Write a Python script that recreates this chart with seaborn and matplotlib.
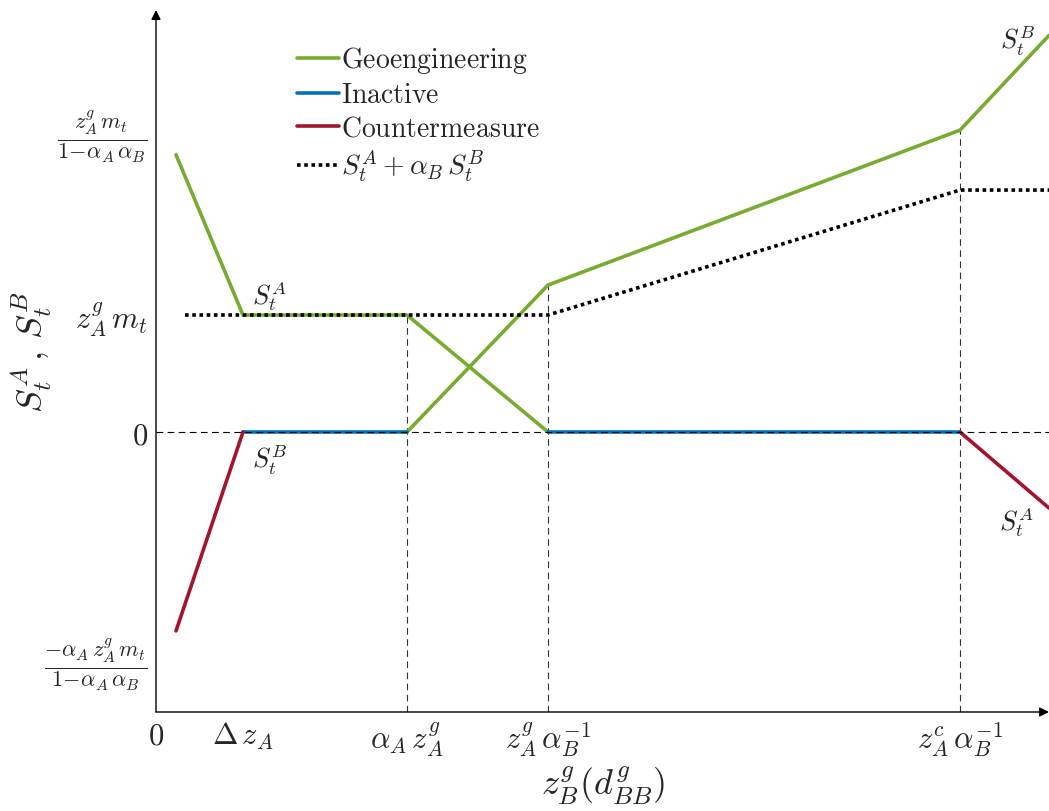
import numpy as np
import pandas as pd
import seaborn as sns
import matplotlib
matplotlib.use("Agg")
import matplotlib.pyplot as plt
from matplotlib.lines import Line2D
import matplotlib.transforms as mtransforms

sns.set_style("white")
plt.rcParams["mathtext.fontset"] = "cm"
plt.rcParams["font.family"] = ["DejaVu Serif"]

# ---- data (schematic units) ----
x_ticks = [0.0, 0.87, 2.51, 3.92, 8.04]
x_ticklabels = [r"$0$", r"$\Delta\,z_A$", r"$\alpha_A\,z_A^g$", r"$z_A^g\,\alpha_B^{-1}$", r"$z_A^c\,\alpha_B^{-1}$"]
y_ticks = [-1.98, 0.0, 1.0, 2.53]
y_ticklabels = [r"$\frac{-\alpha_A\,z_A^g\,m_t}{1\!-\!\alpha_A\,\alpha_B}$", r"$0$", r"$z_A^g\,m_t$",
                r"$\frac{z_A^g\,m_t}{1\!-\!\alpha_A\,\alpha_B}$"]

geo_A_x = [0.20, 0.87, 2.51, 3.92]
geo_A_y = [2.37, 1.0, 1.0, 0.0]
geo_B_x = [2.51, 3.92, 8.04, 8.93]
geo_B_y = [0.0, 1.256, 2.58, 3.39]
inact_B_x = [0.87, 2.51]
inact_B_y = [0.0, 0.0]
inact_A_x = [3.92, 8.04]
inact_A_y = [0.0, 0.0]
count_B_x = [0.20, 0.87]
count_B_y = [-1.70, 0.0]
count_A_x = [8.04, 8.93]
count_A_y = [0.0, -0.65]
sum_x = [0.29, 3.92, 8.04, 8.93]
sum_y = [1.0, 1.0, 2.068, 2.068]

vlines_x = [2.51, 3.92, 8.04]
vlines_top = [1.0, 1.256, 2.58]

colors = {"Geoengineering": "#77AC30", "Inactive": "#0072BD",
          "Countermeasure": "#A2142F", "sum": "black"}

rows = []
def add(seg, cat, xs, ys):
    for i, (a, b) in enumerate(zip(xs, ys)):
        rows.append(dict(seg=seg, cat=cat, x=a, y=b, order=i))
add(0, "Geoengineering", geo_A_x, geo_A_y)
add(1, "Geoengineering", geo_B_x, geo_B_y)
add(2, "Inactive", inact_B_x, inact_B_y)
add(3, "Inactive", inact_A_x, inact_A_y)
add(4, "Countermeasure", count_B_x, count_B_y)
add(5, "Countermeasure", count_A_x, count_A_y)
add(6, "sum", sum_x, sum_y)
df = pd.DataFrame(rows)

fig = plt.figure(figsize=(10.49, 8.11), dpi=100)
W, H = 1049, 811
ax = fig.add_axes([156 / W, (811 - 712) / H, (1049 - 156) / W, (712 - 10) / H])
xmin, xmax = 0.0, 8.93
ymin, ymax = -2.393, 3.607
ax.set_xlim(xmin, xmax)
ax.set_ylim(ymin, ymax)

# reference dashed lines
ax.axhline(0, color="black", lw=0.8, dashes=(6, 4), zorder=5)
for xv, yt in zip(vlines_x, vlines_top):
    ax.plot([xv, xv], [ymin, yt], color="#333333", lw=0.8, dashes=(6, 4), zorder=1)

solid = df[df.cat != "sum"]
sns.lineplot(data=solid, x="x", y="y", hue="cat", units="seg", estimator=None,
             sort=False, palette=colors, lw=2.6, legend=False, ax=ax, zorder=3)
dot = df[df.cat == "sum"]
sns.lineplot(data=dot, x="x", y="y", units="seg", estimator=None, sort=False,
             color="black", lw=2.6, dashes=False, legend=False, ax=ax, zorder=4)
ax.lines[-1].set_dashes((1, 1))

# annotations
fs = 19
ax.text(0.96, 1.02, r"$S_t^A$", fontsize=fs, ha="left", va="bottom")
ax.text(0.96, -0.09, r"$S_t^B$", fontsize=fs, ha="left", va="top")
ax.text(8.79, 3.2, r"$S_t^B$", fontsize=fs, ha="right", va="bottom")
ax.text(8.78, -0.62, r"$S_t^A$", fontsize=fs, ha="right", va="top")

# axes styling
for s in ["top", "right", "left", "bottom"]:
    ax.spines[s].set_visible(False)
ax.annotate("", xy=(0, 1.0), xytext=(0, 0), xycoords="axes fraction",
            arrowprops=dict(arrowstyle="-|>", color="black", lw=1.0, mutation_scale=14,
                            shrinkA=0, shrinkB=0), annotation_clip=False)
ax.annotate("", xy=(1.0, 0), xytext=(0, 0), xycoords="axes fraction",
            arrowprops=dict(arrowstyle="-|>", color="black", lw=1.0, mutation_scale=14,
                            shrinkA=0, shrinkB=0), annotation_clip=False)

ax.set_xticks(x_ticks)
ax.set_xticklabels(x_ticklabels, fontsize=22)
ax.set_yticks(y_ticks)
ax.set_yticklabels(y_ticklabels, fontsize=22)
ax.tick_params(axis="both", direction="in", length=5, width=0.8, color="#444444")
ax.tick_params(axis="x", pad=6)
ax.tick_params(axis="y", pad=6)
shift = mtransforms.ScaledTranslation(0, 9 / 100, fig.dpi_scale_trans)
for lab, tl in zip(y_ticklabels, ax.get_yticklabels()):
    if r"\frac" in lab:
        tl.set_fontsize(23)
        tl.set_transform(tl.get_transform() + shift)

ax.set_xlabel(r"$z_B^g(d_{BB}^g)$", fontsize=26)
ax.xaxis.set_label_coords((603 - 156) / 893, (712 - 786) / 702)
ax.xaxis.label.set_va("center")
ax.set_ylabel(r"$S_t^A\,,\,S_t^B$", fontsize=26)
ax.yaxis.set_label_coords((31 - 156) / 893, (712 - 352) / 702)
ax.yaxis.label.set_va("center")

handles = [Line2D([], [], color=colors["Geoengineering"], lw=2.6),
           Line2D([], [], color=colors["Inactive"], lw=2.6),
           Line2D([], [], color=colors["Countermeasure"], lw=2.6),
           Line2D([], [], color="black", lw=2.6, dashes=(1, 1))]
labels = [r"$\mathrm{Geoengineering}$", r"$\mathrm{Inactive}$", r"$\mathrm{Countermeasure}$",
          r"$S_t^A+\alpha_B\,S_t^B$"]
ax.legend(handles, labels, loc="upper left", bbox_to_anchor=((297 - 156) / 893, (712 - 45) / 702),
          frameon=False, fontsize=20, handlelength=1.5, handletextpad=0.1, labelspacing=0.22,
          borderpad=0, borderaxespad=0)

fig.savefig("out.png", dpi=100)
